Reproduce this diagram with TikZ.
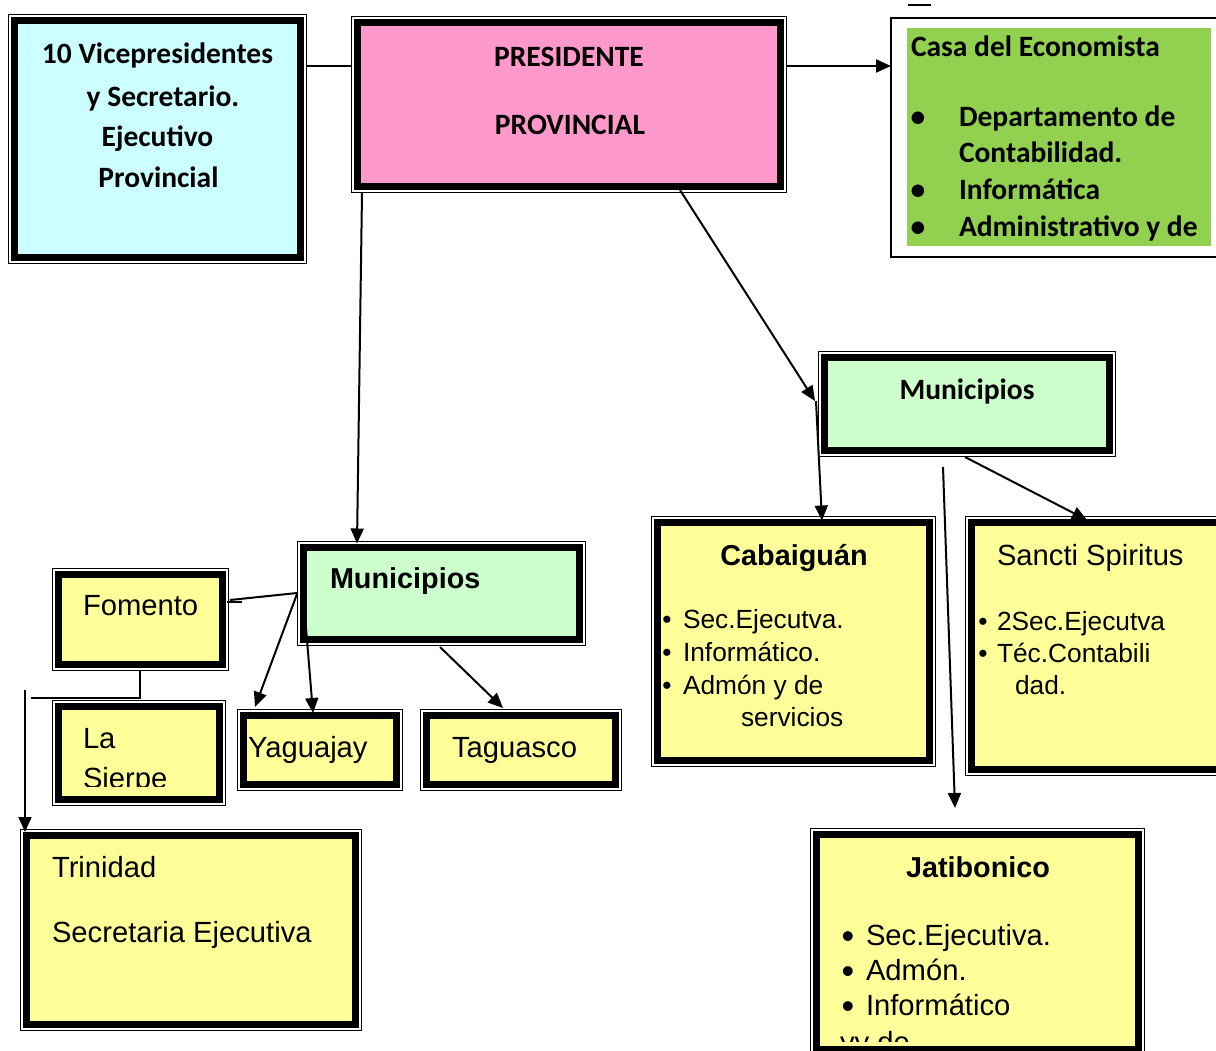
\documentclass[tikz,border=0pt]{standalone}
\usepackage{fontspec}
\setmainfont{Liberation Sans}
\newfontfamily\calfont{Carlito}
\newfontfamily\arfont{Liberation Sans}
\usetikzlibrary{arrows.meta}
\definecolor{cyanbox}{HTML}{CCFFFF}
\definecolor{pinkbox}{HTML}{FF99CC}
\definecolor{greenbox}{HTML}{92D050}
\definecolor{mintbox}{HTML}{CCFFCC}
\definecolor{yellowbox}{HTML}{FFFF99}
\tikzset{
  dboxst/.style={draw, line width=7pt, inner sep=0pt, outer sep=0pt},
  conn/.style={line width=2pt},
  arr/.style={conn, -{Triangle[length=15pt,width=13pt]}},
  cb/.style={font=\calfont\bfseries\fontsize{29.5}{35}\selectfont},
  ar/.style={font=\arfont\fontsize{29.2}{35}\selectfont},
  arb/.style={font=\arfont\bfseries\fontsize{28.8}{35}\selectfont},
  ars/.style={font=\arfont\fontsize{26.3}{31}\selectfont},
  bigbul/.style={font=\arfont\fontsize{36}{36}\selectfont},
  txt/.style={inner sep=0pt, outer sep=0pt, anchor=base west},
  ctxt/.style={inner sep=0pt, outer sep=0pt, anchor=base},
}
\newcommand\dbox[6]{%
  \node[dboxst, fill=#6, minimum width={(#4-#2-13)*1pt}, minimum height={(#5-#3-13)*1pt}] (#1) at ({(#2+#4)/2},{(#3+#5)/2}) {};
  \draw[line width=1pt] ([shift={(-6,-6)}]#1.north west) rectangle ([shift={(6,6)}]#1.south east);
}
\begin{document}
\begin{tikzpicture}[x=1pt, y=-1pt]
\useasboundingbox[fill=white] (0,0) rectangle (1216,1050);

% boxes
\dbox{vp}{8}{14}{307}{264}{cyanbox}
\dbox{pres}{351}{16}{787}{193}{pinkbox}
\node[draw, line width=1.5pt, inner sep=0pt, outer sep=0pt, fill=white,
      minimum width=339pt, minimum height=239pt] (casa) at (1060.5,137.5) {};
\fill[greenbox] ([shift={(16,10)}]casa.north west) rectangle ([shift={(320,228)}]casa.north west);
\dbox{munR}{818}{351}{1116}{457}{mintbox}
\dbox{munL}{297}{541}{586}{646}{mintbox}
\dbox{fom}{52}{568}{229}{671}{yellowbox}
\dbox{sierpe}{52}{700}{226}{806}{yellowbox}
\dbox{yag}{237}{709}{403}{791}{yellowbox}
\dbox{tag}{420}{709}{622}{791}{yellowbox}
\dbox{cab}{651}{516}{936}{767}{yellowbox}
\dbox{sancti}{965}{516}{1240}{776}{yellowbox}
\dbox{jat}{810}{828}{1145}{1056}{yellowbox}
\dbox{trin}{20}{829}{362}{1031}{yellowbox}

% texts
\node[cb, ctxt] (vp1) at (157.5,63) {10 Vicepresidentes};
\node[cb, ctxt] (vp2) at (163,106) {y Secretario.};
\node[cb, ctxt] (vp3) at (157.5,146) {Ejecutivo};
\node[cb, ctxt] (vp4) at (158.5,187) {Provincial};

\node[cb, ctxt] (pr1) at (569,66) {PRESIDENTE};
\node[cb, ctxt] (pr2) at (570,134) {PROVINCIAL};

\node[cb, txt] (ca0) at (911,56) {Casa del Economista};
\node[cb, ctxt] (cab1) at (918,126) {•};
\node[cb, ctxt] (cab2) at (918,199) {•};
\node[cb, ctxt] (cab3) at (918,236) {•};
\node[cb, txt] (ca1) at (959,126) {Departamento de};
\node[cb, txt] (ca2) at (959,162) {Contabilidad.};
\node[cb, txt] (ca3) at (959,199) {Informática};
\node[cb, txt] (ca4) at (959,236) {Administrativo y de};

\node[cb, ctxt] (mr) at (967,399) {Municipios};
\node[arb, txt] (ml) at (330,588) {Municipios};

\node[ar, txt] (fo) at (83,615) {Fomento};
\node[ar, txt] (ls1) at (83,748) {La};
\begin{scope}
  \clip (60,700) rectangle (220,786);
  \node[ar, txt] (ls2) at (83,788) {Sierpe};
\end{scope}
\node[ar, txt] (ya) at (248,757) {Yaguajay};
\node[ar, txt] (ta) at (452,757) {Taguasco};

\node[arb, ctxt] (cb0) at (794,565) {Cabaiguán};
\node[ars, ctxt] (cbb1) at (667,628) {•};
\node[ars, ctxt] (cbb2) at (667,661) {•};
\node[ars, ctxt] (cbb3) at (667,694) {•};
\node[ars, txt] (cb1) at (683,628) {Sec.Ejecutva.};
\node[ars, txt] (cb2) at (683,661) {Informático.};
\node[ars, txt] (cb3) at (683,694) {Admón y de};
\node[ars, txt] (cb4) at (741,726) {servicios};

\node[ar, txt] (ss0) at (997,565) {Sancti Spiritus};
\node[ars, ctxt] (ssb1) at (983,630) {•};
\node[ars, ctxt] (ssb2) at (983,662) {•};
\node[ars, txt] (ss1) at (997,630) {2Sec.Ejecutva};
\node[ars, txt] (ss2) at (997,662) {Téc.Contabili};
\node[ars, txt] (ss3) at (1015,694) {dad.};

\node[arb, ctxt] (jb0) at (978,877) {Jatibonico};
\node[bigbul, ctxt] (jbb1) at (848,948) {•};
\node[bigbul, ctxt] (jbb2) at (848,983) {•};
\node[bigbul, ctxt] (jbb3) at (848,1018) {•};
\node[ar, txt] (jb1) at (866,945) {Sec.Ejecutiva.};
\node[ar, txt] (jb2) at (866,980) {Admón.};
\node[ar, txt] (jb3) at (866,1015) {Informático};
\begin{scope}
  \clip (830,1000) rectangle (1130,1041);
  \node[ar, txt] (jb4) at (840,1052) {yy de};
\end{scope}

\node[ar, txt] (tr1) at (52,877) {Trinidad};
\node[ar, txt] (tr2) at (52,942) {Secretaria Ejecutiva};

% connectors
\draw[conn] ([shift={(6.5,45.5)}]vp.north east) -- ([shift={(-6.5,43.5)}]pres.north west);
\draw[arr] ([shift={(6.5,43.5)}]pres.north east) -- ([shift={(0,48)}]casa.north west);
\draw[arr] ([shift={(4.5,6.5)}]pres.south west) -- ([shift={(53.5,-4)}]munL.north west);
\draw[arr] ([shift={(-100.5,3.5)}]pres.south east) -- ([shift={(-9.5,43.5)}]munR.north west);
\draw[arr] ([shift={(-8.5,43.5)}]munR.north west) -- ([shift={(164.5,-2)}]cab.north west);
\coordinate (jfree) at ([shift={(138.5,-26.5)}]jat.north west);
\draw[arr] ([shift={(118.5,16.5)}]munR.south west) -- (jfree);
\draw[arr] ([shift={(140.5,6.5)}]munR.south west) -- ([shift={(115.5,-2.5)}]sancti.north west);
\draw[conn] ([shift={(-6.5,45.5)}]munL.north west) -- ([shift={(7.5,25.5)}]fom.north east);
\draw[conn] ([shift={(4.5,27.5)}]fom.north east) -- ([shift={(19.5,27.5)}]fom.north east);
\draw[arr] ([shift={(-6.5,46.5)}]munL.north west) -- ([shift={(11.5,-8.5)}]yag.north west);
\draw[arr] ([shift={(0,50)}]munL.north west) -- ([shift={(69.5,-2.5)}]yag.north west);
\draw[arr] ([shift={(136.5,7.5)}]munL.south west) -- ([shift={(76.5,-7.5)}]tag.north west);
\draw[conn] ([shift={(81.5,6.5)}]fom.south west) |- ([shift={(-27.5,-8.5)}]sierpe.north west);
\coordinate (tfree) at ([shift={(-33.5,-16.5)}]sierpe.north west);
\draw[arr] (tfree) -- ([shift={(-1.5,-3.5)}]trin.north west);
\draw[conn] ([shift={(17,-13)}]casa.north west) -- ([shift={(40,-13)}]casa.north west);
\end{tikzpicture}
\end{document}
